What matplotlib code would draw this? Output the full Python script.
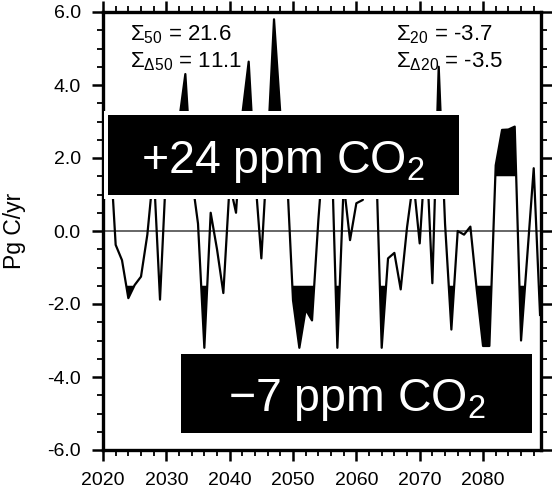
import matplotlib
matplotlib.use('Agg')
import matplotlib.pyplot as plt
from matplotlib.patches import Rectangle
from matplotlib.ticker import MultipleLocator, FormatStrFormatter
import numpy as np

# ---------------- data ----------------
years = list(range(2020, 2090))
flux = [0.55, 2.6, -0.38, -0.8, -1.84, -1.48, -1.25, -0.1, 1.7, -1.88,
        1.8, 2.2, 3.0, 4.3, 1.5, 0.2, -3.2, 0.5, -0.5, -1.7,
        1.3, 0.5, 3.2, 4.64, 1.55, -0.75, 2.3, 5.8, 3.2, 1.7,
        -1.9, -3.2, -2.15, -2.45, 0.3, 2.6, 2.8, -3.2, 1.3, -0.25,
        0.76, 0.85, 1.8, 2.6, -3.2, -0.75, -0.6, -1.6, 0.1, 1.4,
        -0.34, 2.4, -1.43, 4.5, 0.2, -2.7, 0.0, -0.1, 0.12, -1.6,
        -3.15, -3.15, 1.8, 2.77, 2.78, 2.86, -3.0, -0.64, 1.72, -2.3]
threshold = 1.5
y_ticks = [-6, -4, -2, 0, 2, 4, 6]
x_ticks = [2020, 2030, 2040, 2050, 2060, 2070, 2080]
stats_left = [r'$\Sigma_{50}$ = 21.6', r'$\Sigma_{\Delta 50}$ = 11.1']
stats_right = [r'$\Sigma_{20}$ = -3.7', r'$\Sigma_{\Delta 20}$ = -3.5']
box_top_label = r'+24 ppm CO$_2$'
box_bottom_label = '\u22127 ppm CO$_2$'
ylabel = 'Pg C/yr'

# ---------------- style ----------------
plt.rcParams['font.family'] = ['Liberation Sans', 'DejaVu Sans']
plt.rcParams['mathtext.fontset'] = 'custom'
plt.rcParams['mathtext.rm'] = 'Liberation Sans'
plt.rcParams['mathtext.it'] = 'Liberation Sans:italic'
plt.rcParams['mathtext.bf'] = 'Liberation Sans:bold'
plt.rcParams['mathtext.default'] = 'rm'

W, H = 552, 496
fig = plt.figure(figsize=(W / 100, H / 100), dpi=100)


def fx(x):
    return x / W


def fy(y):
    return 1 - y / H


ax = fig.add_axes([fx(103), fy(450), fx(541) - fx(103), fy(12) - fy(450)])

yr = np.array(years, dtype=float)
fl = np.array(flux, dtype=float)

ax.axhline(0, color='0.3', lw=1.2, zorder=1)
ax.fill_between(yr, fl, threshold, where=fl > threshold, interpolate=True,
                color='black', lw=0, zorder=2)
ax.fill_between(yr, fl, -threshold, where=fl < -threshold, interpolate=True,
                color='black', lw=0, zorder=2)
ax.plot(yr, fl, color='black', lw=1.6, zorder=3)

ax.set_xlim(2020, 2089.15)
ax.set_ylim(-6, 6)
ax.set_xticks(x_ticks)
ax.set_yticks(y_ticks)
ax.xaxis.set_minor_locator(MultipleLocator(2))
ax.yaxis.set_minor_locator(MultipleLocator(0.5))
ax.yaxis.set_major_formatter(FormatStrFormatter('%.1f'))

ax.tick_params(which='both', direction='out', top=True, right=True,
               labeltop=False, labelright=False, labelsize=14)
ax.tick_params(which='major', length=8, width=1.8, pad=8)
ax.tick_params(which='minor', length=4, width=1.3)
for s in ax.spines.values():
    s.set_linewidth(2.4)

fig.text(fx(14), fy(231), ylabel, rotation=90, ha='center', va='center',
         fontsize=16.5)

# statistics text
for i, t in enumerate(stats_left):
    fig.text(fx(130), fy(40 + 27 * i), t, fontsize=16, va='baseline')
for i, t in enumerate(stats_right):
    fig.text(fx(396), fy(40 + 27 * i), t, fontsize=16, va='baseline')


# boxes
def add_box(x0, y0, x1, y1, frame=4):
    fig.patches.append(Rectangle((fx(x0 - frame), fy(y1 + frame)),
                                 fx(x1 + frame) - fx(x0 - frame),
                                 fy(y0 - frame) - fy(y1 + frame),
                                 transform=fig.transFigure, facecolor='white',
                                 edgecolor='none', zorder=5))
    fig.patches.append(Rectangle((fx(x0), fy(y1)), fx(x1) - fx(x0),
                                 fy(y0) - fy(y1), transform=fig.transFigure,
                                 facecolor='black', edgecolor='none', zorder=6))


add_box(108, 115, 458.5, 195)
add_box(181, 354, 532, 433)

fig.text(fx(283), fy(173), box_top_label, color='white', fontsize=33.5,
         ha='center', va='baseline', zorder=7)
fig.text(fx(357), fy(411), box_bottom_label, color='white', fontsize=33.5,
         ha='center', va='baseline', zorder=7)

fig.savefig('out.png', dpi=100)
